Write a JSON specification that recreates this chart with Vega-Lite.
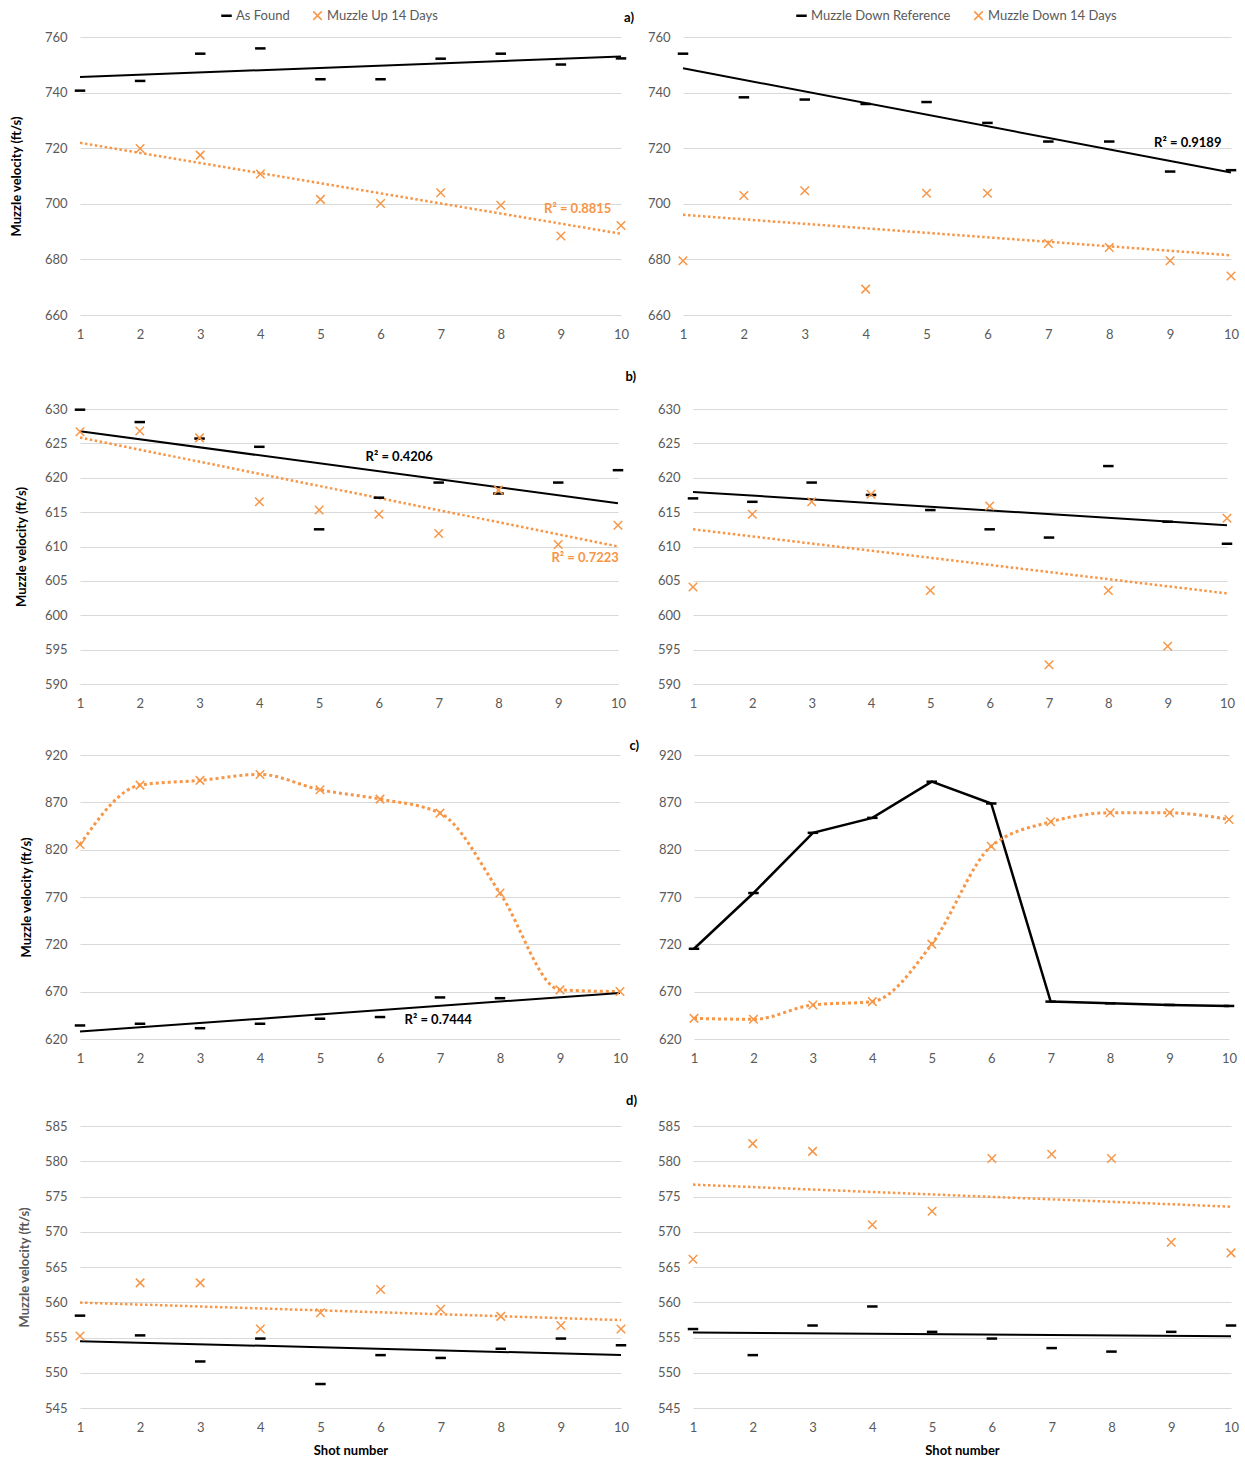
{
  "$schema": "https://vega.github.io/schema/vega-lite/v6.json",
  "background": "white",
  "padding": {"left": 10, "top": 9, "right": 0, "bottom": 0},
  "datasets": {
    "pts": [
      {"panel":"a_left","series":"As Found","shot":1,"v":740.7},{"panel":"a_left","series":"As Found","shot":2,"v":744.2},{"panel":"a_left","series":"As Found","shot":3,"v":754.0},{"panel":"a_left","series":"As Found","shot":4,"v":755.9},{"panel":"a_left","series":"As Found","shot":5,"v":744.8},{"panel":"a_left","series":"As Found","shot":6,"v":744.8},{"panel":"a_left","series":"As Found","shot":7,"v":752.2},{"panel":"a_left","series":"As Found","shot":8,"v":754.0},{"panel":"a_left","series":"As Found","shot":9,"v":750.1},{"panel":"a_left","series":"As Found","shot":10,"v":752.3},
      {"panel":"a_left","series":"Muzzle Up 14 Days","shot":2,"v":719.9},{"panel":"a_left","series":"Muzzle Up 14 Days","shot":3,"v":717.5},{"panel":"a_left","series":"Muzzle Up 14 Days","shot":4,"v":710.7},{"panel":"a_left","series":"Muzzle Up 14 Days","shot":5,"v":701.6},{"panel":"a_left","series":"Muzzle Up 14 Days","shot":6,"v":700.1},{"panel":"a_left","series":"Muzzle Up 14 Days","shot":7,"v":704.0},{"panel":"a_left","series":"Muzzle Up 14 Days","shot":8,"v":699.5},{"panel":"a_left","series":"Muzzle Up 14 Days","shot":9,"v":688.4},{"panel":"a_left","series":"Muzzle Up 14 Days","shot":10,"v":692.2},
      {"panel":"a_right","series":"Muzzle Down Reference","shot":1,"v":754.0},{"panel":"a_right","series":"Muzzle Down Reference","shot":2,"v":738.3},{"panel":"a_right","series":"Muzzle Down Reference","shot":3,"v":737.5},{"panel":"a_right","series":"Muzzle Down Reference","shot":4,"v":735.9},{"panel":"a_right","series":"Muzzle Down Reference","shot":5,"v":736.6},{"panel":"a_right","series":"Muzzle Down Reference","shot":6,"v":729.1},{"panel":"a_right","series":"Muzzle Down Reference","shot":7,"v":722.4},{"panel":"a_right","series":"Muzzle Down Reference","shot":8,"v":722.4},{"panel":"a_right","series":"Muzzle Down Reference","shot":9,"v":711.6},{"panel":"a_right","series":"Muzzle Down Reference","shot":10,"v":712.1},
      {"panel":"a_right","series":"Muzzle Down 14 Days","shot":1,"v":679.5},{"panel":"a_right","series":"Muzzle Down 14 Days","shot":2,"v":703.0},{"panel":"a_right","series":"Muzzle Down 14 Days","shot":3,"v":704.7},{"panel":"a_right","series":"Muzzle Down 14 Days","shot":4,"v":669.3},{"panel":"a_right","series":"Muzzle Down 14 Days","shot":5,"v":703.8},{"panel":"a_right","series":"Muzzle Down 14 Days","shot":6,"v":703.8},{"panel":"a_right","series":"Muzzle Down 14 Days","shot":7,"v":685.7},{"panel":"a_right","series":"Muzzle Down 14 Days","shot":8,"v":684.3},{"panel":"a_right","series":"Muzzle Down 14 Days","shot":9,"v":679.5},{"panel":"a_right","series":"Muzzle Down 14 Days","shot":10,"v":674.0},
      {"panel":"b_left","series":"As Found","shot":1,"v":629.9},{"panel":"b_left","series":"As Found","shot":2,"v":628.1},{"panel":"b_left","series":"As Found","shot":3,"v":625.7},{"panel":"b_left","series":"As Found","shot":4,"v":624.5},{"panel":"b_left","series":"As Found","shot":5,"v":612.5},{"panel":"b_left","series":"As Found","shot":6,"v":617.1},{"panel":"b_left","series":"As Found","shot":7,"v":619.3},{"panel":"b_left","series":"As Found","shot":8,"v":617.7},{"panel":"b_left","series":"As Found","shot":9,"v":619.3},{"panel":"b_left","series":"As Found","shot":10,"v":621.1},
      {"panel":"b_left","series":"Muzzle Up 14 Days","shot":1,"v":626.7},{"panel":"b_left","series":"Muzzle Up 14 Days","shot":2,"v":626.8},{"panel":"b_left","series":"Muzzle Up 14 Days","shot":3,"v":625.8},{"panel":"b_left","series":"Muzzle Up 14 Days","shot":4,"v":616.5},{"panel":"b_left","series":"Muzzle Up 14 Days","shot":5,"v":615.3},{"panel":"b_left","series":"Muzzle Up 14 Days","shot":6,"v":614.7},{"panel":"b_left","series":"Muzzle Up 14 Days","shot":7,"v":611.9},{"panel":"b_left","series":"Muzzle Up 14 Days","shot":8,"v":618.2},{"panel":"b_left","series":"Muzzle Up 14 Days","shot":9,"v":610.3},{"panel":"b_left","series":"Muzzle Up 14 Days","shot":10,"v":613.1},
      {"panel":"b_right","series":"Muzzle Down Reference","shot":1,"v":617.0},{"panel":"b_right","series":"Muzzle Down Reference","shot":2,"v":616.5},{"panel":"b_right","series":"Muzzle Down Reference","shot":3,"v":619.3},{"panel":"b_right","series":"Muzzle Down Reference","shot":4,"v":617.5},{"panel":"b_right","series":"Muzzle Down Reference","shot":5,"v":615.3},{"panel":"b_right","series":"Muzzle Down Reference","shot":6,"v":612.5},{"panel":"b_right","series":"Muzzle Down Reference","shot":7,"v":611.3},{"panel":"b_right","series":"Muzzle Down Reference","shot":8,"v":621.7},{"panel":"b_right","series":"Muzzle Down Reference","shot":9,"v":613.6},{"panel":"b_right","series":"Muzzle Down Reference","shot":10,"v":610.4},
      {"panel":"b_right","series":"Muzzle Down 14 Days","shot":1,"v":604.1},{"panel":"b_right","series":"Muzzle Down 14 Days","shot":2,"v":614.7},{"panel":"b_right","series":"Muzzle Down 14 Days","shot":3,"v":616.5},{"panel":"b_right","series":"Muzzle Down 14 Days","shot":4,"v":617.6},{"panel":"b_right","series":"Muzzle Down 14 Days","shot":5,"v":603.6},{"panel":"b_right","series":"Muzzle Down 14 Days","shot":6,"v":615.9},{"panel":"b_right","series":"Muzzle Down 14 Days","shot":7,"v":592.8},{"panel":"b_right","series":"Muzzle Down 14 Days","shot":8,"v":603.6},{"panel":"b_right","series":"Muzzle Down 14 Days","shot":9,"v":595.5},{"panel":"b_right","series":"Muzzle Down 14 Days","shot":10,"v":614.1},
      {"panel":"c_left","series":"As Found","shot":1,"v":634.3},{"panel":"c_left","series":"As Found","shot":2,"v":636.1},{"panel":"c_left","series":"As Found","shot":3,"v":631.4},{"panel":"c_left","series":"As Found","shot":4,"v":636.1},{"panel":"c_left","series":"As Found","shot":5,"v":641.4},{"panel":"c_left","series":"As Found","shot":6,"v":643.2},{"panel":"c_left","series":"As Found","shot":7,"v":663.9},{"panel":"c_left","series":"As Found","shot":8,"v":663.1},
      {"panel":"c_left","series":"Muzzle Up 14 Days","shot":1,"v":825.4},{"panel":"c_left","series":"Muzzle Up 14 Days","shot":2,"v":888.2},{"panel":"c_left","series":"Muzzle Up 14 Days","shot":3,"v":893.2},{"panel":"c_left","series":"Muzzle Up 14 Days","shot":4,"v":899.5},{"panel":"c_left","series":"Muzzle Up 14 Days","shot":5,"v":883.3},{"panel":"c_left","series":"Muzzle Up 14 Days","shot":6,"v":873.4},{"panel":"c_left","series":"Muzzle Up 14 Days","shot":7,"v":858.6},{"panel":"c_left","series":"Muzzle Up 14 Days","shot":8,"v":774.2},{"panel":"c_left","series":"Muzzle Up 14 Days","shot":9,"v":671.9},{"panel":"c_left","series":"Muzzle Up 14 Days","shot":10,"v":670.1},
      {"panel":"c_right","series":"Muzzle Down Reference","shot":1,"v":715.3},{"panel":"c_right","series":"Muzzle Down Reference","shot":2,"v":774.2},{"panel":"c_right","series":"Muzzle Down Reference","shot":3,"v":837.8},{"panel":"c_right","series":"Muzzle Down Reference","shot":4,"v":853.6},{"panel":"c_right","series":"Muzzle Down Reference","shot":5,"v":891.8},{"panel":"c_right","series":"Muzzle Down Reference","shot":6,"v":868.8},{"panel":"c_right","series":"Muzzle Down Reference","shot":7,"v":659.5},{"panel":"c_right","series":"Muzzle Down Reference","shot":8,"v":657.7},{"panel":"c_right","series":"Muzzle Down Reference","shot":9,"v":656.0},{"panel":"c_right","series":"Muzzle Down Reference","shot":10,"v":654.9},
      {"panel":"c_right","series":"Muzzle Down 14 Days","shot":1,"v":641.8},{"panel":"c_right","series":"Muzzle Down 14 Days","shot":2,"v":640.8},{"panel":"c_right","series":"Muzzle Down 14 Days","shot":3,"v":656.0},{"panel":"c_right","series":"Muzzle Down 14 Days","shot":4,"v":659.5},{"panel":"c_right","series":"Muzzle Down 14 Days","shot":5,"v":720.2},{"panel":"c_right","series":"Muzzle Down 14 Days","shot":6,"v":823.6},{"panel":"c_right","series":"Muzzle Down 14 Days","shot":7,"v":849.4},{"panel":"c_right","series":"Muzzle Down 14 Days","shot":8,"v":858.9},{"panel":"c_right","series":"Muzzle Down 14 Days","shot":9,"v":858.9},{"panel":"c_right","series":"Muzzle Down 14 Days","shot":10,"v":851.9},
      {"panel":"d_left","series":"As Found","shot":1,"v":558.1},{"panel":"d_left","series":"As Found","shot":2,"v":555.3},{"panel":"d_left","series":"As Found","shot":3,"v":551.6},{"panel":"d_left","series":"As Found","shot":4,"v":554.85},{"panel":"d_left","series":"As Found","shot":5,"v":548.4},{"panel":"d_left","series":"As Found","shot":6,"v":552.5},{"panel":"d_left","series":"As Found","shot":7,"v":552.1},{"panel":"d_left","series":"As Found","shot":8,"v":553.4},{"panel":"d_left","series":"As Found","shot":9,"v":554.85},{"panel":"d_left","series":"As Found","shot":10,"v":553.9},
      {"panel":"d_left","series":"Muzzle Up 14 Days","shot":1,"v":555.2},{"panel":"d_left","series":"Muzzle Up 14 Days","shot":2,"v":562.75},{"panel":"d_left","series":"Muzzle Up 14 Days","shot":3,"v":562.75},{"panel":"d_left","series":"Muzzle Up 14 Days","shot":4,"v":556.2},{"panel":"d_left","series":"Muzzle Up 14 Days","shot":5,"v":558.5},{"panel":"d_left","series":"Muzzle Up 14 Days","shot":6,"v":561.8},{"panel":"d_left","series":"Muzzle Up 14 Days","shot":7,"v":559.0},{"panel":"d_left","series":"Muzzle Up 14 Days","shot":8,"v":558.0},{"panel":"d_left","series":"Muzzle Up 14 Days","shot":9,"v":556.7},{"panel":"d_left","series":"Muzzle Up 14 Days","shot":10,"v":556.2},
      {"panel":"d_right","series":"Muzzle Down Reference","shot":1,"v":556.2},{"panel":"d_right","series":"Muzzle Down Reference","shot":2,"v":552.5},{"panel":"d_right","series":"Muzzle Down Reference","shot":3,"v":556.7},{"panel":"d_right","series":"Muzzle Down Reference","shot":4,"v":559.4},{"panel":"d_right","series":"Muzzle Down Reference","shot":5,"v":555.8},{"panel":"d_right","series":"Muzzle Down Reference","shot":6,"v":554.85},{"panel":"d_right","series":"Muzzle Down Reference","shot":7,"v":553.5},{"panel":"d_right","series":"Muzzle Down Reference","shot":8,"v":553.0},{"panel":"d_right","series":"Muzzle Down Reference","shot":9,"v":555.8},{"panel":"d_right","series":"Muzzle Down Reference","shot":10,"v":556.7},
      {"panel":"d_right","series":"Muzzle Down 14 Days","shot":1,"v":566.1},{"panel":"d_right","series":"Muzzle Down 14 Days","shot":2,"v":582.5},{"panel":"d_right","series":"Muzzle Down 14 Days","shot":3,"v":581.4},{"panel":"d_right","series":"Muzzle Down 14 Days","shot":4,"v":571.0},{"panel":"d_right","series":"Muzzle Down 14 Days","shot":5,"v":572.9},{"panel":"d_right","series":"Muzzle Down 14 Days","shot":6,"v":580.4},{"panel":"d_right","series":"Muzzle Down 14 Days","shot":7,"v":581.0},{"panel":"d_right","series":"Muzzle Down 14 Days","shot":8,"v":580.4},{"panel":"d_right","series":"Muzzle Down 14 Days","shot":9,"v":568.5},{"panel":"d_right","series":"Muzzle Down 14 Days","shot":10,"v":567.0}
    ],
    "r2": [
      {"panel":"a_left","series":"Muzzle Up 14 Days","shot":9.28,"v":698.1,"label":"R² = 0.8815"},
      {"panel":"a_right","series":"Muzzle Down Reference","shot":9.29,"v":721.9,"label":"R² = 0.9189"},
      {"panel":"b_left","series":"As Found","shot":6.34,"v":623.0,"label":"R² = 0.4206"},
      {"panel":"b_left","series":"Muzzle Up 14 Days","shot":9.45,"v":608.3,"label":"R² = 0.7223"},
      {"panel":"c_left","series":"As Found","shot":6.97,"v":640.1,"label":"R² = 0.7444"}
    ]
  },
  "data": {"name": "pts"},
  "columns": 1,
  "spacing": 30,
  "resolve": {"scale": {"color": "independent", "shape": "independent", "x": "independent", "y": "independent"}, "legend": {"color": "independent", "shape": "independent"}},
  "concat": [
    {
      "spacing": 13,
      "resolve": {"scale": {"color": "independent", "shape": "independent", "x": "independent", "y": "independent"}, "legend": {"color": "independent", "shape": "independent"}},
      "hconcat": [
        {
          "width": 541, "height": 278,
          "title": {"text": "a)", "dx": 13, "dy": 20, "offset": 4},
          "encoding": {
            "x": {"field": "shot", "type": "quantitative", "scale": {"domain": [1, 10], "nice": false, "zero": false}, "axis": {"values": [1,2,3,4,5,6,7,8,9,10], "title": null, "format": "d"}},
            "y": {"field": "v", "type": "quantitative", "scale": {"domain": [660, 760], "nice": false, "zero": false}, "axis": {"values": [660,680,700,720,740,760], "title": "Muzzle velocity (ft/s)", "minExtent": 49, "maxExtent": 49}}
          },
          "layer": [
            {"transform": [{"filter": "datum.panel === 'a_left' && datum.series === 'As Found'"}, {"regression": "v", "on": "shot", "extent": [1, 10]}], "mark": {"type": "line", "color": "#000000", "strokeWidth": 2}},
            {"transform": [{"filter": "datum.panel === 'a_left' && datum.series === 'Muzzle Up 14 Days'"}, {"regression": "v", "on": "shot", "extent": [1, 10]}], "mark": {"type": "line", "color": "#F79646", "strokeWidth": 2.5, "strokeDash": [2.5, 2.5]}},
            {"transform": [{"filter": "datum.panel === 'a_left'"}], "mark": {"type": "point", "filled": false, "strokeWidth": 1.5, "size": 100, "opacity": 1},
             "encoding": {
               "color": {"field": "series", "type": "nominal", "scale": {"domain": ["As Found", "Muzzle Up 14 Days"], "range": ["#000000", "#F79646"]}, "legend": {"orient": "none", "legendX": 140, "legendY": -28, "direction": "horizontal", "title": null}},
               "shape": {"field": "series", "type": "nominal", "scale": {"domain": ["As Found", "Muzzle Up 14 Days"], "range": ["M-0.9,-0.1H0.9V0.1H-0.9Z", "M-0.85,-0.85L0.85,0.85M-0.85,0.85L0.85,-0.85"]}, "legend": {"orient": "none", "legendX": 140, "legendY": -28, "direction": "horizontal", "title": null}}
             }},
            {"data": {"name": "r2"}, "transform": [{"filter": "datum.panel === 'a_left'"}], "mark": {"type": "text", "color": "#F79646", "fontWeight": "bold", "fontSize": 13, "font": "Lato"}, "encoding": {"text": {"field": "label"}}}
          ]
        },
        {
          "width": 548, "height": 278,
          "encoding": {
            "x": {"field": "shot", "type": "quantitative", "scale": {"domain": [1, 10], "nice": false, "zero": false}, "axis": {"values": [1,2,3,4,5,6,7,8,9,10], "title": null, "format": "d"}},
            "y": {"field": "v", "type": "quantitative", "scale": {"domain": [660, 760], "nice": false, "zero": false}, "axis": {"values": [660,680,700,720,740,760], "title": null}}
          },
          "layer": [
            {"transform": [{"filter": "datum.panel === 'a_right' && datum.series === 'Muzzle Down Reference'"}, {"regression": "v", "on": "shot", "extent": [1, 10]}], "mark": {"type": "line", "color": "#000000", "strokeWidth": 2}},
            {"transform": [{"filter": "datum.panel === 'a_right' && datum.series === 'Muzzle Down 14 Days'"}, {"regression": "v", "on": "shot", "extent": [1, 10]}], "mark": {"type": "line", "color": "#F79646", "strokeWidth": 2.5, "strokeDash": [2.5, 2.5]}},
            {"transform": [{"filter": "datum.panel === 'a_right'"}], "mark": {"type": "point", "filled": false, "strokeWidth": 1.5, "size": 100, "opacity": 1},
             "encoding": {
               "color": {"field": "series", "type": "nominal", "scale": {"domain": ["Muzzle Down Reference", "Muzzle Down 14 Days"], "range": ["#000000", "#F79646"]}, "legend": {"orient": "none", "legendX": 112, "legendY": -28, "direction": "horizontal", "title": null}},
               "shape": {"field": "series", "type": "nominal", "scale": {"domain": ["Muzzle Down Reference", "Muzzle Down 14 Days"], "range": ["M-0.9,-0.1H0.9V0.1H-0.9Z", "M-0.85,-0.85L0.85,0.85M-0.85,0.85L0.85,-0.85"]}, "legend": {"orient": "none", "legendX": 112, "legendY": -28, "direction": "horizontal", "title": null}}
             }},
            {"data": {"name": "r2"}, "transform": [{"filter": "datum.panel === 'a_right'"}], "mark": {"type": "text", "color": "#000000", "fontWeight": "bold", "fontSize": 13, "font": "Lato"}, "encoding": {"text": {"field": "label"}}}
          ]
        }
      ]
    },
    {
      "spacing": 21,
      "resolve": {"scale": {"color": "independent", "shape": "independent", "x": "independent", "y": "independent"}, "legend": {"color": "independent", "shape": "independent"}},
      "hconcat": [
        {
          "width": 538, "height": 275,
          "title": {"text": "b)", "dx": 18, "dy": 0, "offset": 19},
          "encoding": {
            "x": {"field": "shot", "type": "quantitative", "scale": {"domain": [1, 10], "nice": false, "zero": false}, "axis": {"values": [1,2,3,4,5,6,7,8,9,10], "title": null, "format": "d"}},
            "y": {"field": "v", "type": "quantitative", "scale": {"domain": [590, 630], "nice": false, "zero": false}, "axis": {"values": [590,595,600,605,610,615,620,625,630], "title": "Muzzle velocity (ft/s)", "minExtent": 44, "maxExtent": 44}}
          },
          "layer": [
            {"transform": [{"filter": "datum.panel === 'b_left' && datum.series === 'As Found'"}, {"regression": "v", "on": "shot", "extent": [1, 10]}], "mark": {"type": "line", "color": "#000000", "strokeWidth": 2}},
            {"transform": [{"filter": "datum.panel === 'b_left' && datum.series === 'Muzzle Up 14 Days'"}, {"regression": "v", "on": "shot", "extent": [1, 10]}], "mark": {"type": "line", "color": "#F79646", "strokeWidth": 2.5, "strokeDash": [2.5, 2.5]}},
            {"transform": [{"filter": "datum.panel === 'b_left'"}], "mark": {"type": "point", "filled": false, "strokeWidth": 1.5, "size": 100, "opacity": 1},
             "encoding": {
               "color": {"field": "series", "type": "nominal", "scale": {"domain": ["As Found", "Muzzle Up 14 Days"], "range": ["#000000", "#F79646"]}, "legend": null},
               "shape": {"field": "series", "type": "nominal", "scale": {"domain": ["As Found", "Muzzle Up 14 Days"], "range": ["M-0.9,-0.1H0.9V0.1H-0.9Z", "M-0.85,-0.85L0.85,0.85M-0.85,0.85L0.85,-0.85"]}, "legend": null}
             }},
            {"data": {"name": "r2"}, "transform": [{"filter": "datum.panel === 'b_left' && datum.series === 'As Found'"}], "mark": {"type": "text", "color": "#000000", "fontWeight": "bold", "fontSize": 13, "font": "Lato"}, "encoding": {"text": {"field": "label"}}},
            {"data": {"name": "r2"}, "transform": [{"filter": "datum.panel === 'b_left' && datum.series === 'Muzzle Up 14 Days'"}], "mark": {"type": "text", "color": "#F79646", "fontWeight": "bold", "fontSize": 13, "font": "Lato"}, "encoding": {"text": {"field": "label"}}}
          ]
        },
        {
          "width": 534, "height": 275,
          "encoding": {
            "x": {"field": "shot", "type": "quantitative", "scale": {"domain": [1, 10], "nice": false, "zero": false}, "axis": {"values": [1,2,3,4,5,6,7,8,9,10], "title": null, "format": "d"}},
            "y": {"field": "v", "type": "quantitative", "scale": {"domain": [590, 630], "nice": false, "zero": false}, "axis": {"values": [590,595,600,605,610,615,620,625,630], "title": null}}
          },
          "layer": [
            {"transform": [{"filter": "datum.panel === 'b_right' && datum.series === 'Muzzle Down Reference'"}, {"regression": "v", "on": "shot", "extent": [1, 10]}], "mark": {"type": "line", "color": "#000000", "strokeWidth": 2}},
            {"transform": [{"filter": "datum.panel === 'b_right' && datum.series === 'Muzzle Down 14 Days'"}, {"regression": "v", "on": "shot", "extent": [1, 10]}], "mark": {"type": "line", "color": "#F79646", "strokeWidth": 2.5, "strokeDash": [2.5, 2.5]}},
            {"transform": [{"filter": "datum.panel === 'b_right'"}], "mark": {"type": "point", "filled": false, "strokeWidth": 1.5, "size": 100, "opacity": 1},
             "encoding": {
               "color": {"field": "series", "type": "nominal", "scale": {"domain": ["Muzzle Down Reference", "Muzzle Down 14 Days"], "range": ["#000000", "#F79646"]}, "legend": null},
               "shape": {"field": "series", "type": "nominal", "scale": {"domain": ["Muzzle Down Reference", "Muzzle Down 14 Days"], "range": ["M-0.9,-0.1H0.9V0.1H-0.9Z", "M-0.85,-0.85L0.85,0.85M-0.85,0.85L0.85,-0.85"]}, "legend": null}
             }}
          ]
        }
      ]
    },
    {
      "spacing": 19,
      "resolve": {"scale": {"color": "independent", "shape": "independent", "x": "independent", "y": "independent"}, "legend": {"color": "independent", "shape": "independent"}},
      "hconcat": [
        {
          "width": 540, "height": 284,
          "title": {"text": "c)", "dx": 19, "dy": 4, "offset": 0},
          "encoding": {
            "x": {"field": "shot", "type": "quantitative", "scale": {"domain": [1, 10], "nice": false, "zero": false}, "axis": {"values": [1,2,3,4,5,6,7,8,9,10], "title": null, "format": "d"}},
            "y": {"field": "v", "type": "quantitative", "scale": {"domain": [620, 920], "nice": false, "zero": false}, "axis": {"values": [620,670,720,770,820,870,920], "title": "Muzzle velocity (ft/s)", "minExtent": 39, "maxExtent": 39}}
          },
          "layer": [
            {"transform": [{"filter": "datum.panel === 'c_left' && datum.series === 'Muzzle Up 14 Days'"}], "mark": {"type": "line", "color": "#F79646", "strokeWidth": 3, "strokeDash": [3, 3], "interpolate": "monotone"}},
            {"transform": [{"filter": "datum.panel === 'c_left' && datum.series === 'As Found'"}, {"regression": "v", "on": "shot", "extent": [1, 10]}], "mark": {"type": "line", "color": "#000000", "strokeWidth": 2}},
            {"transform": [{"filter": "datum.panel === 'c_left'"}], "mark": {"type": "point", "filled": false, "strokeWidth": 1.5, "size": 100, "opacity": 1},
             "encoding": {
               "color": {"field": "series", "type": "nominal", "scale": {"domain": ["As Found", "Muzzle Up 14 Days"], "range": ["#000000", "#F79646"]}, "legend": null},
               "shape": {"field": "series", "type": "nominal", "scale": {"domain": ["As Found", "Muzzle Up 14 Days"], "range": ["M-0.9,-0.1H0.9V0.1H-0.9Z", "M-0.85,-0.85L0.85,0.85M-0.85,0.85L0.85,-0.85"]}, "legend": null}
             }},
            {"data": {"name": "r2"}, "transform": [{"filter": "datum.panel === 'c_left'"}], "mark": {"type": "text", "color": "#000000", "fontWeight": "bold", "fontSize": 13, "font": "Lato"}, "encoding": {"text": {"field": "label"}}}
          ]
        },
        {
          "width": 535, "height": 284,
          "encoding": {
            "x": {"field": "shot", "type": "quantitative", "scale": {"domain": [1, 10], "nice": false, "zero": false}, "axis": {"values": [1,2,3,4,5,6,7,8,9,10], "title": null, "format": "d"}},
            "y": {"field": "v", "type": "quantitative", "scale": {"domain": [620, 920], "nice": false, "zero": false}, "axis": {"values": [620,670,720,770,820,870,920], "title": null}}
          },
          "layer": [
            {"transform": [{"filter": "datum.panel === 'c_right' && datum.series === 'Muzzle Down Reference'"}], "mark": {"type": "line", "color": "#000000", "strokeWidth": 2.5}},
            {"transform": [{"filter": "datum.panel === 'c_right' && datum.series === 'Muzzle Down 14 Days'"}], "mark": {"type": "line", "color": "#F79646", "strokeWidth": 3, "strokeDash": [3, 3], "interpolate": "monotone"}},
            {"transform": [{"filter": "datum.panel === 'c_right'"}], "mark": {"type": "point", "filled": false, "strokeWidth": 1.5, "size": 100, "opacity": 1},
             "encoding": {
               "color": {"field": "series", "type": "nominal", "scale": {"domain": ["Muzzle Down Reference", "Muzzle Down 14 Days"], "range": ["#000000", "#F79646"]}, "legend": null},
               "shape": {"field": "series", "type": "nominal", "scale": {"domain": ["Muzzle Down Reference", "Muzzle Down 14 Days"], "range": ["M-0.9,-0.1H0.9V0.1H-0.9Z", "M-0.85,-0.85L0.85,0.85M-0.85,0.85L0.85,-0.85"]}, "legend": null}
             }}
          ]
        }
      ]
    },
    {
      "spacing": 20,
      "resolve": {"scale": {"color": "independent", "shape": "independent", "x": "independent", "y": "independent"}, "legend": {"color": "independent", "shape": "independent"}},
      "hconcat": [
        {
          "width": 541, "height": 282,
          "title": {"text": "d)", "dx": 16, "dy": 0, "offset": 12},
          "encoding": {
            "x": {"field": "shot", "type": "quantitative", "scale": {"domain": [1, 10], "nice": false, "zero": false}, "axis": {"values": [1,2,3,4,5,6,7,8,9,10], "title": "Shot number", "titlePadding": 10, "format": "d"}},
            "y": {"field": "v", "type": "quantitative", "scale": {"domain": [545, 585], "nice": false, "zero": false}, "axis": {"values": [545,550,555,560,565,570,575,580,585], "title": "Muzzle velocity (ft/s)", "titleColor": "#595959", "minExtent": 41, "maxExtent": 41}}
          },
          "layer": [
            {"transform": [{"filter": "datum.panel === 'd_left' && datum.series === 'As Found'"}, {"regression": "v", "on": "shot", "extent": [1, 10]}], "mark": {"type": "line", "color": "#000000", "strokeWidth": 2}},
            {"transform": [{"filter": "datum.panel === 'd_left' && datum.series === 'Muzzle Up 14 Days'"}, {"regression": "v", "on": "shot", "extent": [1, 10]}], "mark": {"type": "line", "color": "#F79646", "strokeWidth": 2.5, "strokeDash": [2.5, 2.5]}},
            {"transform": [{"filter": "datum.panel === 'd_left'"}], "mark": {"type": "point", "filled": false, "strokeWidth": 1.5, "size": 100, "opacity": 1},
             "encoding": {
               "color": {"field": "series", "type": "nominal", "scale": {"domain": ["As Found", "Muzzle Up 14 Days"], "range": ["#000000", "#F79646"]}, "legend": null},
               "shape": {"field": "series", "type": "nominal", "scale": {"domain": ["As Found", "Muzzle Up 14 Days"], "range": ["M-0.9,-0.1H0.9V0.1H-0.9Z", "M-0.85,-0.85L0.85,0.85M-0.85,0.85L0.85,-0.85"]}, "legend": null}
             }}
          ]
        },
        {
          "width": 538, "height": 282,
          "encoding": {
            "x": {"field": "shot", "type": "quantitative", "scale": {"domain": [1, 10], "nice": false, "zero": false}, "axis": {"values": [1,2,3,4,5,6,7,8,9,10], "title": "Shot number", "titlePadding": 10, "format": "d"}},
            "y": {"field": "v", "type": "quantitative", "scale": {"domain": [545, 585], "nice": false, "zero": false}, "axis": {"values": [545,550,555,560,565,570,575,580,585], "title": null}}
          },
          "layer": [
            {"transform": [{"filter": "datum.panel === 'd_right' && datum.series === 'Muzzle Down Reference'"}, {"regression": "v", "on": "shot", "extent": [1, 10]}], "mark": {"type": "line", "color": "#000000", "strokeWidth": 2}},
            {"transform": [{"filter": "datum.panel === 'd_right' && datum.series === 'Muzzle Down 14 Days'"}, {"regression": "v", "on": "shot", "extent": [1, 10]}], "mark": {"type": "line", "color": "#F79646", "strokeWidth": 2.5, "strokeDash": [2.5, 2.5]}},
            {"transform": [{"filter": "datum.panel === 'd_right'"}], "mark": {"type": "point", "filled": false, "strokeWidth": 1.5, "size": 100, "opacity": 1},
             "encoding": {
               "color": {"field": "series", "type": "nominal", "scale": {"domain": ["Muzzle Down Reference", "Muzzle Down 14 Days"], "range": ["#000000", "#F79646"]}, "legend": null},
               "shape": {"field": "series", "type": "nominal", "scale": {"domain": ["Muzzle Down Reference", "Muzzle Down 14 Days"], "range": ["M-0.9,-0.1H0.9V0.1H-0.9Z", "M-0.85,-0.85L0.85,0.85M-0.85,0.85L0.85,-0.85"]}, "legend": null}
             }}
          ]
        }
      ]
    }
  ],
  "config": {
    "view": {"stroke": null},
    "font": "Lato",
    "axis": {"labelFont": "Lato", "labelFontSize": 13, "labelColor": "#595959", "ticks": false, "tickSize": 0, "domain": false, "gridColor": "#d9d9d9", "gridWidth": 1, "titleFont": "Lato", "titleFontSize": 13, "titleFontWeight": "bold", "titleColor": "#000000"},
    "axisX": {"grid": false, "labelPadding": 13, "labelFlush": false},
    "axisY": {"grid": true, "labelPadding": 13, "titlePadding": 8},
    "title": {"font": "Lato", "fontSize": 13, "fontWeight": "bold", "color": "#000000", "anchor": "end", "frame": "group"},
    "legend": {"labelFont": "Lato", "labelFontSize": 13, "labelColor": "#595959", "symbolSize": 100, "symbolStrokeWidth": 1.5, "columnPadding": 20, "labelOffset": 3, "padding": 0}
  }
}
